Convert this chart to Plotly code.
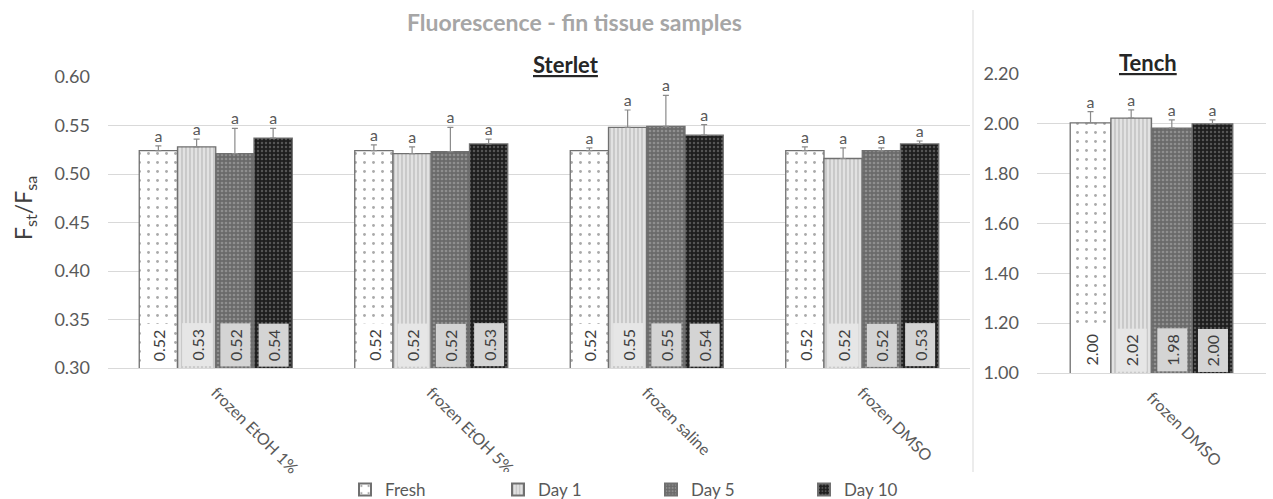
import plotly.graph_objects as go

# ---------------- data ----------------
series = ["Fresh", "Day 1", "Day 5", "Day 10"]
sterlet_categories = ["frozen EtOH 1%", "frozen EtOH 5%", "frozen saline", "frozen DMSO"]
tench_categories = ["frozen DMSO"]

sterlet_fresh = [0.524, 0.524, 0.524, 0.524]
sterlet_day1 = [0.528, 0.521, 0.548, 0.516]
sterlet_day5 = [0.521, 0.523, 0.549, 0.524]
sterlet_day10 = [0.537, 0.531, 0.540, 0.531]

sterlet_fresh_err = [0.005, 0.006, 0.003, 0.004]
sterlet_day1_err = [0.008, 0.007, 0.018, 0.011]
sterlet_day5_err = [0.026, 0.025, 0.032, 0.003]
sterlet_day10_err = [0.010, 0.005, 0.011, 0.003]

tench_fresh = [2.004]
tench_day1 = [2.023]
tench_day5 = [1.983]
tench_day10 = [2.000]

tench_fresh_err = [0.045]
tench_day1_err = [0.033]
tench_day5_err = [0.033]
tench_day10_err = [0.016]

sig_letters = ["a", "a", "a", "a"]

sterlet_ticks = [0.30, 0.35, 0.40, 0.45, 0.50, 0.55, 0.60]
tench_ticks = [1.00, 1.20, 1.40, 1.60, 1.80, 2.00, 2.20]

# ---------------- styles ----------------
FONT = "Lato, 'Open Sans', sans-serif"
patterns = [
    dict(shape=".", bgcolor="#ffffff", fgcolor="#555555", size=9, solidity=0.08),
    dict(shape="|", bgcolor="#e2e2e2", fgcolor="#9c9c9c", size=4, solidity=0.35),
    dict(shape=".", bgcolor="#6a6a6a", fgcolor="#b4b4b4", size=4, solidity=0.35),
    dict(shape=".", bgcolor="#1e1e1e", fgcolor="#8c8c8c", size=4, solidity=0.3),
]
label_bg = ["#ffffff", "#e6e6e6", "#d4d4d4", "#d4d4d4"]

sterlet_vals = [sterlet_fresh, sterlet_day1, sterlet_day5, sterlet_day10]
sterlet_errs = [sterlet_fresh_err, sterlet_day1_err, sterlet_day5_err, sterlet_day10_err]
tench_vals = [tench_fresh, tench_day1, tench_day5, tench_day10]
tench_errs = [tench_fresh_err, tench_day1_err, tench_day5_err, tench_day10_err]

n = len(series)
group_frac = 0.71
w = group_frac / n

fig = go.Figure()
annotations = []

def add_panel(cats, vals, errs, xa, ya, ybase, show_legend):
    for j in range(n):
        off = (j - (n - 1) / 2) * w
        xs = [i + off for i in range(len(cats))]
        fig.add_trace(go.Bar(
            x=xs, y=vals[j], width=w, name=series[j],
            legendgroup=series[j], showlegend=show_legend,
            xaxis=xa, yaxis=ya,
            marker=dict(color=patterns[j]["bgcolor"], pattern=patterns[j],
                        line=dict(color="#707070", width=1.3)),
            error_y=dict(type="data", array=errs[j], symmetric=False,
                         arrayminus=[0] * len(cats), color="#8a8a8a",
                         thickness=1.2, width=3),
            hoverinfo="skip",
        ))
        fig.add_trace(go.Scatter(
            x=xs, y=[v + e for v, e in zip(vals[j], errs[j])],
            mode="text", text=[sig_letters[j]] * len(cats),
            textposition="top center",
            textfont=dict(family=FONT, size=16, color="#595959"),
            showlegend=False, xaxis=xa, yaxis=ya, hoverinfo="skip",
            cliponaxis=False,
        ))
        for x, v in zip(xs, vals[j]):
            annotations.append(dict(
                x=x, y=ybase, xref=xa, yref=ya, text=f"{v:.2f}",
                textangle=-90, showarrow=False, yanchor="bottom",
                xanchor="center", yshift=1,
                bgcolor=label_bg[j], borderpad=5,
                font=dict(family=FONT, size=16, color="#404040"),
            ))

add_panel(sterlet_categories, sterlet_vals, sterlet_errs, "x", "y", sterlet_ticks[0], True)
add_panel(tench_categories, tench_vals, tench_errs, "x2", "y2", tench_ticks[0], False)

W, H = 1273, 499
def px(x): return x / W
def py(y): return 1 - y / H

axis_common = dict(showgrid=False, zeroline=False, showline=True, linecolor="#d9d9d9",
                   linewidth=1, ticks="", tickangle=45, ticklabelstandoff=8,
                   tickfont=dict(family=FONT, size=16, color="#595959"))
yaxis_common = dict(showgrid=True, gridcolor="#d9d9d9", gridwidth=1, zeroline=False,
                    showline=False, ticks="", ticklabelstandoff=17,
                    tickfont=dict(family=FONT, size=18, color="#595959"))

fig.update_layout(
    width=W, height=H,
    margin=dict(l=0, r=0, t=0, b=0, autoexpand=False),
    paper_bgcolor="white", plot_bgcolor="white",
    barmode="overlay",
    font=dict(family=FONT, color="#595959"),
    xaxis=dict(domain=[px(108), px(970)], range=[-0.5, len(sterlet_categories) - 0.5],
               tickvals=list(range(len(sterlet_categories))), ticktext=sterlet_categories,
               anchor="y", automargin=False, **axis_common),
    yaxis=dict(domain=[py(368), py(77)], range=[sterlet_ticks[0], sterlet_ticks[-1]],
               tickvals=sterlet_ticks, ticktext=[f"{t:.2f}" for t in sterlet_ticks],
               anchor="x", automargin=False, **yaxis_common),
    xaxis2=dict(domain=[px(1037), px(1266)], range=[-0.5, len(tench_categories) - 0.5],
                tickvals=list(range(len(tench_categories))), ticktext=tench_categories,
                anchor="y2", automargin=False, **axis_common),
    yaxis2=dict(domain=[py(373), py(74)], range=[tench_ticks[0], tench_ticks[-1]],
                tickvals=tench_ticks, ticktext=[f"{t:.2f}" for t in tench_ticks],
                anchor="x2", automargin=False, **yaxis_common),
    legend=dict(orientation="h", x=px(345), y=py(490), xanchor="left", yanchor="middle",
                entrywidth=108, entrywidthmode="pixels",
                font=dict(family=FONT, size=17, color="#595959"),
                itemsizing="constant", traceorder="normal"),
    shapes=[dict(type="line", xref="paper", yref="paper", x0=px(973), x1=px(973),
                 y0=py(472), y1=py(10), line=dict(color="#d9d9d9", width=1))],
)

annotations += [
    dict(text="<b>Fluorescence - fin tissue samples</b>", xref="paper", yref="paper",
         x=px(574), y=py(22), showarrow=False, xanchor="center", yanchor="middle",
         font=dict(family=FONT, size=23, color="#a6a6a6")),
    dict(text="<b><u>Sterlet</u></b>", xref="paper", yref="paper",
         x=px(566), y=py(64), showarrow=False, xanchor="center", yanchor="middle",
         font=dict(family=FONT, size=22, color="#262626")),
    dict(text="<b><u>Tench</u></b>", xref="paper", yref="paper",
         x=px(1148), y=py(62), showarrow=False, xanchor="center", yanchor="middle",
         font=dict(family=FONT, size=22, color="#262626")),
    dict(text="F<sub>st</sub>/F<sub>sa</sub>", xref="paper", yref="paper",
         x=px(24), y=py(208), showarrow=False, xanchor="center", yanchor="middle",
         textangle=-90, font=dict(family=FONT, size=23, color="#404040")),
]
fig.update_layout(annotations=annotations)

fig.write_html("out.html", config={"displayModeBar": False},
               post_script="document.body.style.margin='0';document.body.style.overflow='hidden';")
